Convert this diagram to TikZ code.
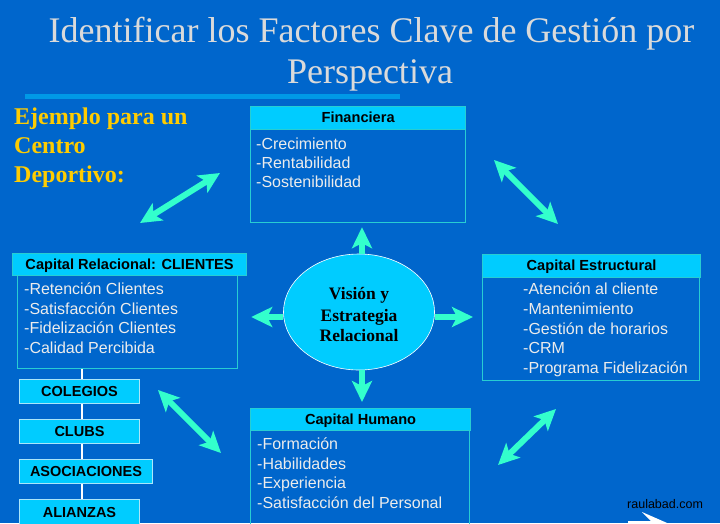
\documentclass[tikz,border=0pt]{standalone}
\usepackage{fontspec}
\setmainfont{Liberation Serif}
\setsansfont{Liberation Sans}
\usetikzlibrary{arrows.meta,shapes.geometric}
\definecolor{bg}{RGB}{0,102,204}
\definecolor{hdrfill}{RGB}{0,204,255}
\definecolor{edge}{RGB}{40,205,210}
\definecolor{coledge}{RGB}{170,230,250}
\definecolor{arrowcol}{RGB}{51,255,204}
\definecolor{itemcol}{RGB}{236,236,236}
\definecolor{titlecol}{RGB}{218,218,218}
\definecolor{barcol}{RGB}{0,153,230}
\definecolor{yel}{RGB}{255,204,0}
\begin{document}
\begin{tikzpicture}[x=1pt,y=-1pt,
  hdr/.style={draw=edge, line width=1.2pt, fill=hdrfill, anchor=north west, inner sep=0pt,
    font=\sffamily\bfseries\fontsize{14.6}{16}\selectfont, text=black, text height=10.5pt, text depth=1pt},
  bodybox/.style={draw=edge, line width=1.2pt, anchor=north west, inner sep=0pt},
  item/.style={anchor=base west, inner sep=0pt, text=itemcol, font=\sffamily\fontsize{16}{19}\selectfont},
  colbox/.style={draw=coledge, line width=1pt, fill=hdrfill, anchor=north west, inner sep=0pt,
    minimum height=24pt, font=\sffamily\bfseries\fontsize{14.5}{16}\selectfont, text=black,
    text height=10.5pt, text depth=1pt},
  vistext/.style={anchor=base, inner sep=0pt, text=black, font=\rmfamily\bfseries\fontsize{17.5}{20}\selectfont},
  bigarrow/.style={draw=arrowcol, line width=6pt, -{Stealth[length=21pt,width=20pt,inset=5pt]}},
  dblarrow/.style={draw=arrowcol, line width=6pt,
    {Stealth[length=21pt,width=20pt,inset=5pt]}-{Stealth[length=21pt,width=20pt,inset=5pt]}},
  ttl/.style={anchor=base, inner sep=0pt, text=titlecol, font=\rmfamily\fontsize{36}{40}\selectfont},
  yeltext/.style={anchor=base west, inner sep=0pt, text=yel, font=\rmfamily\bfseries\fontsize{24}{29}\selectfont}
]
\useasboundingbox[fill=bg] (0,0) rectangle (720,523);

% Title
\node[ttl] (t1) at (371.5,42) {Identificar los Factores Clave de Gestión por};
\node[ttl] (t2) at (370,83) {Perspectiva};
\fill[barcol] (25,94) rectangle (400,99);

% Example text
\node[yeltext] (y1) at (14,124) {Ejemplo para un};
\node[yeltext] (y2) at (14,153) {Centro};
\node[yeltext] (y3) at (14,182) {Deportivo:};

% Financiera
\node[bodybox, minimum width=215pt, minimum height=93pt] (finb) at (250,129) {};
\node[hdr, minimum width=215pt, minimum height=23pt] (finh) at (250,106) {Financiera};
\node[item] (f1) at (256,149) {-Crecimiento};
\node[item] (f2) at (256,168) {-Rentabilidad};
\node[item] (f3) at (256,187) {-Sostenibilidad};

% Capital Relacional
\node[bodybox, minimum width=220pt, minimum height=93pt] (relb) at (17,275) {};
\node[hdr, minimum width=234pt, minimum height=22pt] (relh) at (12,253) {Capital Relacional: CLIENTES};
\node[item] (r1) at (24,294) {-Retención Clientes};
\node[item] (r2) at (24,314) {-Satisfacción Clientes};
\node[item] (r3) at (24,333) {-Fidelización Clientes};
\node[item] (r4) at (24,353) {-Calidad Percibida};

% Capital Estructural
\node[bodybox, minimum width=217pt, minimum height=103pt] (estb) at (482,277) {};
\node[hdr, minimum width=218pt, minimum height=23pt] (esth) at (482,254) {Capital Estructural};
\node[item] (e1) at (523,294) {-Atención al cliente};
\node[item] (e2) at (523,314) {-Mantenimiento};
\node[item] (e3) at (523,334) {-Gestión de horarios};
\node[item] (e4) at (523,353) {-CRM};
\node[item] (e5) at (523,373) {-Programa Fidelización};

% Capital Humano
\node[bodybox, minimum width=219pt, minimum height=100pt] (humb) at (250,430) {};
\node[hdr, minimum width=220pt, minimum height=22pt] (humh) at (250,408) {Capital Humano};
\node[item] (h1) at (257,449) {-Formación};
\node[item] (h2) at (257,469) {-Habilidades};
\node[item] (h3) at (257,488) {-Experiencia};
\node[item] (h4) at (257,508) {-Satisfacción del Personal};

% Left column
\coordinate (colx) at (82,0);
\coordinate (colend) at (82,505);
\draw[white, line width=2pt] (relb.south -| colx) -- (colend);
\node[colbox, minimum width=120pt] (cole) at (19,379) {COLEGIOS};
\node[colbox, minimum width=120pt] (club) at (19,419) {CLUBS};
\node[colbox, minimum width=133pt] (asoc) at (19,459) {ASOCIACIONES};
\node[colbox, minimum width=120pt, minimum height=27pt] (alia) at (19,499) {ALIANZAS};

% Centre ellipse
\node[ellipse, draw=white, line width=0.6pt, fill=hdrfill, minimum width=151pt,
  minimum height=116pt, inner sep=0pt] (vis) at (359,312) {};
\node[vistext] (v1) at (359,299.3) {Visión y};
\node[vistext] (v2) at (359,321) {Estrategia};
\node[vistext] (v3) at (359,341.7) {Relacional};

% Arrows from the ellipse
\draw[bigarrow, shorten >=4pt] ([xshift=3pt]vis.north) -- ([xshift=3pt]vis.north |- finb.south);
\draw[bigarrow, shorten >=6pt] ([xshift=3pt]vis.south) -- ([xshift=3pt]vis.south |- humh.north);
\draw[bigarrow, shorten >=13pt] ([yshift=-5pt]vis.west) -- ([yshift=-5pt]vis.west -| relb.east);
\draw[bigarrow, shorten >=9pt] ([yshift=-5pt]vis.east) -- ([yshift=-5pt]vis.east -| estb.west);

% Diagonal double arrows
\coordinate (d1a) at (140,223);
\coordinate (d1b) at (220,173);
\coordinate (d2a) at (494,160);
\coordinate (d2b) at (558,224);
\coordinate (d3a) at (158,390);
\coordinate (d3b) at (221,453);
\coordinate (d4a) at (498,465);
\coordinate (d4b) at (556,409);
\draw[dblarrow] (d1a) -- (d1b);
\draw[dblarrow] (d2a) -- (d2b);
\draw[dblarrow] (d3a) -- (d3b);
\draw[dblarrow] (d4a) -- (d4b);

% Footer
\node[anchor=base west, inner sep=0pt, text=black, font=\sffamily\fontsize{12.5}{14}\selectfont] (web) at (627,508.3) {raulabad.com};
\fill[white] (628,526) -- (628,521) -- (651,521) -- (642,512) -- (674,526) -- cycle;
\end{tikzpicture}
\end{document}
